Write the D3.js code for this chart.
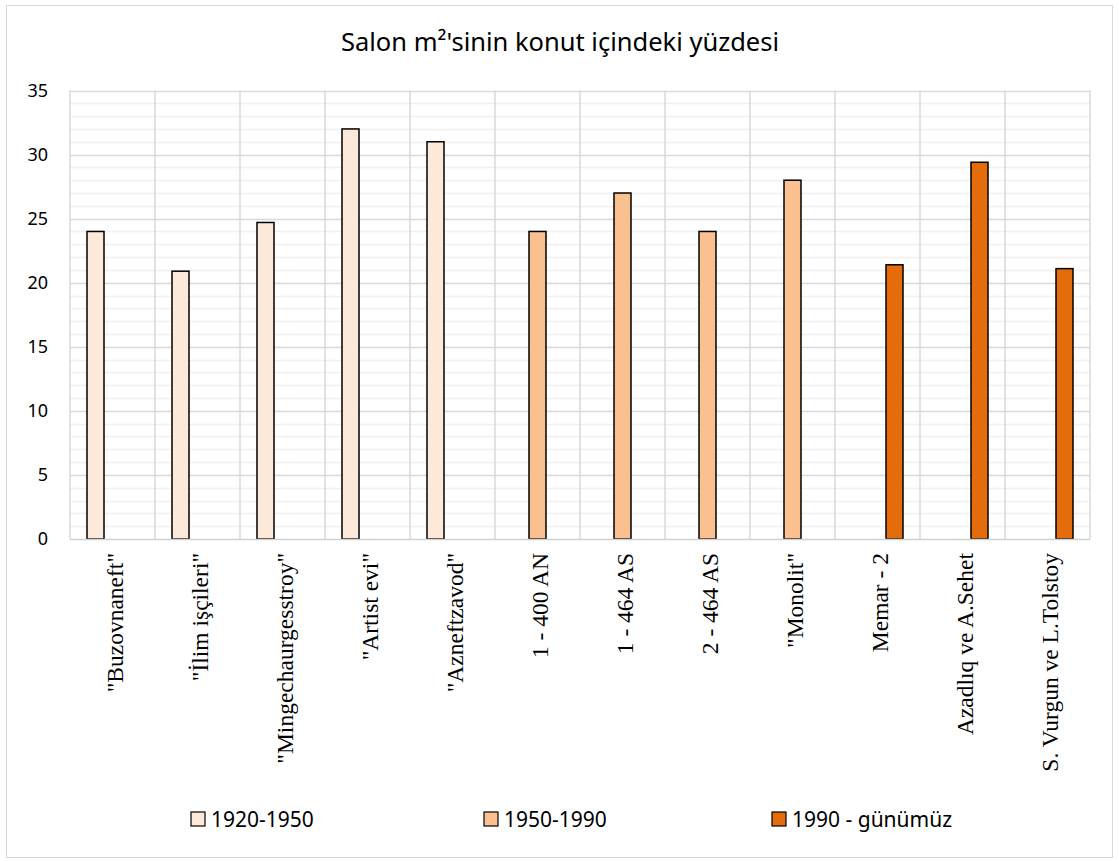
<!DOCTYPE html>
<html>
<head>
<meta charset="utf-8">
<script src="https://cdn.jsdelivr.net/npm/d3@7"></script>
<style>
    body { margin: 0; background: #fff; }
    svg { display: block; }
</style>
</head>
<body>
<svg id="chart" width="1119" height="861"></svg>
<script>
"use strict";

const title = "Salon m²'sinin konut içindeki yüzdesi";
const categories = ['"Buzovnaneft"', '"İlim işçileri"', '"Mingechaurgesstroy"', '"Artist evi"', '"Azneftzavod"',
    '1 - 400 AN', '1 - 464 AS', '2 - 464 AS', '"Monolit"', 'Memar - 2', 'Azadlıq ve A.Sehet', 'S. Vurgun ve L.Tolstoy'];
const seriesNames = ['1920-1950', '1950-1990', '1990 - günümüz'];
const values1920 = [24, 20.9, 24.7, 32, 31, 0, 0, 0, 0, 0, 0, 0];
const values1950 = [0, 0, 0, 0, 0, 24, 27, 24, 28, 0, 0, 0];
const values1990 = [0, 0, 0, 0, 0, 0, 0, 0, 0, 21.4, 29.4, 21.1];
const yTicks = [0, 5, 10, 15, 20, 25, 30, 35];
const colors = ['#fde9d9', '#fac090', '#e46c0a'];

const svg = d3.select('#chart');
const plot = { left: 70, right: 1090, top: 90.5, bottom: 539 };

// chart area border
svg.append('rect')
    .attr('x', 6.5).attr('y', 5.5)
    .attr('width', 1106).attr('height', 852)
    .attr('fill', '#fff')
    .attr('stroke', '#d9d9d9');

svg.append('text')
    .attr('x', 560).attr('y', 51)
    .attr('text-anchor', 'middle')
    .style('font-family', 'Noto Sans, sans-serif')
    .style('font-size', '25.5px')
    .style('fill', '#000')
    .text(title);

const x0 = d3.scaleBand().domain(categories).range([plot.left, plot.right]).padding(0);
const x1 = d3.scaleBand().domain(seriesNames).range([0, x0.bandwidth()]).paddingInner(0).paddingOuter(1);
const y = d3.scaleLinear().domain([0, 35]).range([plot.bottom, plot.top]);

// minor gridlines
svg.append('g')
    .selectAll('line')
    .data(d3.range(1, 35).filter(v => v % 5 !== 0))
    .enter().append('line')
    .attr('x1', plot.left).attr('x2', plot.right)
    .attr('y1', d => Math.round(y(d)) + 0.5).attr('y2', d => Math.round(y(d)) + 0.5)
    .attr('stroke', '#f0f0f0').attr('stroke-width', 1.5);

// major horizontal gridlines
svg.append('g')
    .selectAll('line')
    .data(yTicks.slice(1))
    .enter().append('line')
    .attr('x1', plot.left).attr('x2', plot.right)
    .attr('y1', d => Math.round(y(d)) + 0.5).attr('y2', d => Math.round(y(d)) + 0.5)
    .attr('stroke', '#d9d9d9').attr('stroke-width', 1.5);

// vertical gridlines at category edges
svg.append('g')
    .selectAll('line')
    .data(categories.map(c => x0(c)).concat([plot.right]))
    .enter().append('line')
    .attr('x1', d => d).attr('x2', d => d)
    .attr('y1', plot.top).attr('y2', plot.bottom)
    .attr('stroke', '#d9d9d9').attr('stroke-width', 1.5);

// bars
const allSeries = [values1920, values1950, values1990];
allSeries.forEach((vals, si) => {
    svg.append('g')
        .selectAll('rect')
        .data(vals.map((v, i) => ({ cat: categories[i], v })).filter(d => d.v > 0))
        .enter().append('rect')
        .attr('x', d => x0(d.cat) + x1(seriesNames[si]))
        .attr('y', d => y(d.v))
        .attr('width', x1.bandwidth())
        .attr('height', d => y(0) - y(d.v))
        .attr('fill', colors[si])
        .attr('stroke', '#000')
        .attr('stroke-width', 1.5);
});

// x axis line
svg.append('line')
    .attr('x1', plot.left).attr('x2', plot.right)
    .attr('y1', plot.bottom + 0.5).attr('y2', plot.bottom + 0.5)
    .attr('stroke', '#d0d0d0').attr('stroke-width', 1.5);

// y tick labels
const yAxis = d3.axisLeft(y).tickValues(yTicks).tickSize(0).tickPadding(0);
const yG = svg.append('g')
    .attr('transform', `translate(${48},0)`)
    .call(yAxis);
yG.select('.domain').remove();
yG.selectAll('text')
    .style('font-family', 'Noto Sans, sans-serif')
    .style('font-size', '18px')
    .style('fill', '#000');

// x category labels (rotated)
const xAxis = d3.axisBottom(x0).tickSize(0).tickPadding(0);
const xG = svg.append('g')
    .attr('transform', `translate(0,${plot.bottom})`)
    .call(xAxis);
xG.select('.domain').remove();
xG.selectAll('text')
    .attr('transform', 'rotate(-90)')
    .attr('x', -14)
    .attr('y', 2)
    .attr('dy', '0.35em')
    .attr('text-anchor', 'end')
    .style('font-family', 'Liberation Serif, serif')
    .style('font-size', '23.5px')
    .style('fill', '#000');

// legend
const legendX = [191, 484, 772];
const legend = svg.append('g')
    .selectAll('g')
    .data(seriesNames)
    .enter().append('g')
    .attr('transform', (d, i) => `translate(${legendX[i]},812)`);
legend.append('rect')
    .attr('width', 14).attr('height', 14)
    .attr('fill', (d, i) => colors[i])
    .attr('stroke', '#000').attr('stroke-width', 1.2);
legend.append('text')
    .attr('x', 20).attr('y', 15)
    .style('font-family', 'Noto Sans, sans-serif')
    .style('font-size', '21px')
    .style('fill', '#000')
    .text(d => d);
</script>
</body>
</html>
